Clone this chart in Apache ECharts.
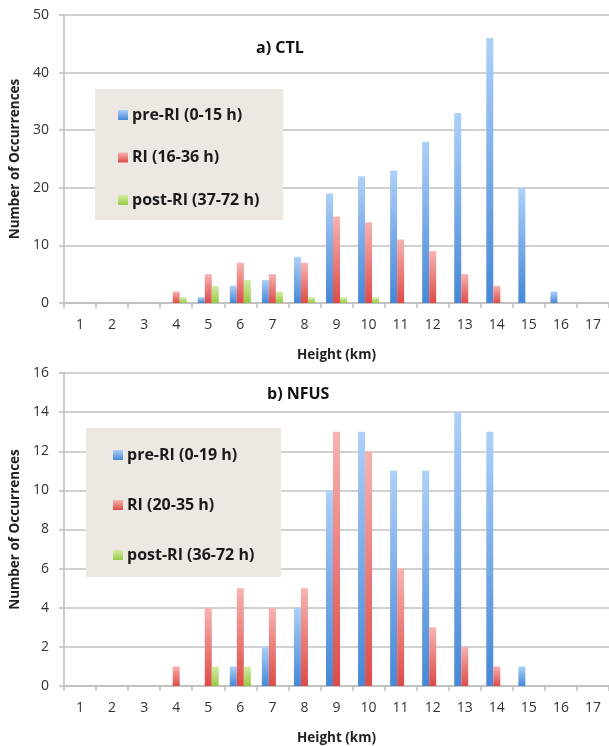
<!DOCTYPE html>
<html>
<head>
<meta charset="utf-8">
<script src="https://cdn.jsdelivr.net/npm/echarts@6/dist/echarts.min.js"></script>
<style>
  html, body { margin: 0; padding: 0; background: #fff; }
  #chart { width: 609px; height: 746px; }
</style>
</head>
<body>
<div id="chart"></div>
<script>
// heights (km)
const heights = ['1','2','3','4','5','6','7','8','9','10','11','12','13','14','15','16','17']

// a) CTL
const ctlPre  = [0,0,0,0,1,3,4,8,19,22,23,28,33,46,20,2,0]
const ctlRI   = [0,0,0,2,5,7,5,7,15,14,11,9,5,3,0,0,0]
const ctlPost = [0,0,0,1,3,4,2,1,1,1,0,0,0,0,0,0,0]
const ctlNames = ['pre-RI (0-15 h)', 'RI (16-36 h)', 'post-RI (37-72 h)']

// b) NFUS
const nfusPre  = [0,0,0,0,0,1,2,4,10,13,11,11,14,13,1,0,0]
const nfusRI   = [0,0,0,1,4,5,4,5,13,12,6,3,2,1,0,0,0]
const nfusPost = [0,0,0,0,1,1,0,0,0,0,0,0,0,0,0,0,0]
const nfusNames = ['pre-RI (0-19 h)', 'RI (20-35 h)', 'post-RI (36-72 h)']

const FONT = 'Open Sans'

const grad = (top, bottom) => new echarts.graphic.LinearGradient(0, 0, 0, 1, [
  {offset: 0, color: top},
  {offset: 1, color: bottom}
])
const colors = [
  grad('#aed0f8', '#4787d6'), // blue
  grad('#f8b3b0', '#de4b48'), // red
  grad('#d6eda6', '#98c845')  // green
]

const xAxis = (gridIndex) => ({
  type: 'category',
  gridIndex: gridIndex,
  data: heights,
  name: 'Height (km)',
  nameLocation: 'middle',
  nameGap: 45,
  nameTextStyle: {fontFamily: FONT, fontWeight: 'bold', fontSize: 13.5, color: '#222'},
  axisLine: {lineStyle: {color: '#bdbdbd', width: 1.5}},
  axisTick: {show: true, length: 5, lineStyle: {color: '#bdbdbd', width: 1.5}},
  axisLabel: {fontFamily: FONT, fontSize: 14, color: '#333', margin: 15, interval: 0}
})

const yAxis = (gridIndex, max, interval) => ({
  type: 'value',
  gridIndex: gridIndex,
  min: 0,
  max: max,
  interval: interval,
  name: 'Number of Occurrences',
  nameLocation: 'middle',
  nameGap: 42,
  nameTextStyle: {fontFamily: FONT, fontWeight: 'bold', fontSize: 13.5, color: '#222'},
  axisLine: {show: true, lineStyle: {color: '#bdbdbd', width: 1.5}},
  axisTick: {show: true, length: 5, lineStyle: {color: '#bdbdbd', width: 1.5}},
  axisLabel: {fontFamily: FONT, fontSize: 14, color: '#333', margin: 15},
  splitLine: {lineStyle: {color: '#c2c2c2', width: 1.5}}
})

const barSeries = (name, data, idx, axisIndex) => ({
  name: name,
  type: 'bar',
  xAxisIndex: axisIndex,
  yAxisIndex: axisIndex,
  data: data,
  barWidth: 7,
  barGap: '0%',
  z: 3,
  itemStyle: {color: colors[idx]}
})

const legend = (names, left, top, gap) => ({
  data: names,
  orient: 'vertical',
  left: left,
  top: top,
  itemGap: gap,
  itemWidth: 10,
  itemHeight: 10,
  icon: 'rect',
  padding: 0,
  z: 6,
  selectedMode: false,
  textStyle: {fontFamily: FONT, fontWeight: 'bold', fontSize: 16, color: '#1a1a1a', padding: [0, 0, 0, -1]}
})

let option = {
  backgroundColor: '#fff',
  animation: false,
  title: [
    {text: 'a) CTL', left: 251, top: 35, textStyle: {fontFamily: FONT, fontWeight: 'bold', fontSize: 16, color: '#111'}},
    {text: 'b) NFUS', left: 262, top: 381, textStyle: {fontFamily: FONT, fontWeight: 'bold', fontSize: 16, color: '#111'}}
  ],
  graphic: [
    {type: 'rect', left: 95, top: 89, z: 5, shape: {width: 188, height: 131}, style: {fill: '#ede9e2'}},
    {type: 'rect', left: 86, top: 428, z: 5, shape: {width: 195, height: 149}, style: {fill: '#ede9e2'}}
  ],
  legend: [
    legend(ctlNames, 118, 107, 26.5),
    legend(nfusNames, 113, 447, 34)
  ],
  grid: [
    {left: 62, top: 15, width: 548, height: 288},
    {left: 61, top: 373, width: 549, height: 318}
  ],
  xAxis: [xAxis(0), xAxis(1)],
  yAxis: [yAxis(0, 50, 10), yAxis(1, 16, 2)],
  series: [
    barSeries(ctlNames[0], ctlPre, 0, 0),
    barSeries(ctlNames[1], ctlRI, 1, 0),
    barSeries(ctlNames[2], ctlPost, 2, 0),
    barSeries(nfusNames[0], nfusPre, 0, 1),
    barSeries(nfusNames[1], nfusRI, 1, 1),
    barSeries(nfusNames[2], nfusPost, 2, 1)
  ]
}

let chart = echarts.init(document.getElementById('chart'))
chart.setOption(option)
</script>
</body>
</html>
